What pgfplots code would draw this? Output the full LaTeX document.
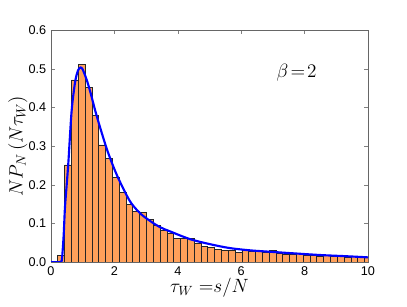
\documentclass[border=0pt]{standalone}
\usepackage{fontspec}
\setmainfont{Liberation Sans}
\usepackage{pgfplots}
\pgfplotsset{compat=1.18}
\usepackage{pgfplotstable}
\definecolor{barfill}{RGB}{255,160,90}
\definecolor{curveblue}{RGB}{0,0,255}

% histogram, bins of width 0.215 starting at 0 (left edges)
\pgfplotstableread{
x y
0.000 0
0.215 0.018
0.430 0.251
0.645 0.471
0.860 0.511
1.075 0.452
1.290 0.380
1.505 0.303
1.720 0.268
1.935 0.219
2.150 0.179
2.365 0.150
2.580 0.130
2.795 0.128
3.010 0.110
3.225 0.095
3.440 0.082
3.655 0.074
3.870 0.061
4.085 0.060
4.300 0.061
4.515 0.048
4.730 0.041
4.945 0.038
5.160 0.033
5.375 0.031
5.590 0.029
5.805 0.024
6.020 0.029
6.235 0.027
6.450 0.027
6.665 0.026
6.880 0.029
7.095 0.022
7.310 0.021
7.525 0.020
7.740 0.023
7.955 0.017
8.170 0.016
8.385 0.015
8.600 0.016
8.815 0.014
9.030 0.015
9.245 0.013
9.460 0.014
9.675 0.013
9.890 0.012
10.105 0.012
}\histdata

\pgfplotstableread{
x y
0.00 0
0.30 0
0.35 0.012
0.40 0.070
0.44 0.140
0.50 0.205
0.55 0.260
0.65 0.390
0.76 0.465
0.85 0.495
0.93 0.503
1.00 0.498
1.13 0.470
1.24 0.440
1.40 0.390
1.56 0.345
1.77 0.290
2.00 0.240
2.19 0.205
2.50 0.156
2.81 0.126
3.13 0.106
3.44 0.090
3.76 0.079
4.39 0.059
5.02 0.046
5.64 0.036
6.30 0.030
7.00 0.026
7.54 0.023
8.50 0.018
9.30 0.015
10.00 0.012
}\curvedata

\begin{document}
\begin{tikzpicture}
\begin{axis}[
    name=main,
    scale only axis,
    width=237.75pt, height=174pt,
    xmin=0, xmax=10, ymin=0, ymax=0.6,
    xtick={0,2,4,6,8,10},
    ytick={0,0.1,0.2,0.3,0.4,0.5,0.6},
    yticklabel style={/pgf/number format/fixed, /pgf/number format/fixed zerofill, /pgf/number format/precision=1},
    /pgf/number format/assume math mode=true,
    tick label style={font=\fontsize{9.5}{11}\selectfont},
    tick align=inside,
    major tick length=3pt,
    axis line style={black!60, line width=0.6pt},
    xlabel={$\tau_W\;{=}s/N$},
    ylabel={$NP_N\,(N\tau_W)$},
    label style={font=\fontsize{14}{16}\selectfont},
    xlabel style={yshift=5pt},
    ylabel style={yshift=-6pt},
    clip=true,
]
\addplot[ybar interval, fill=barfill, draw=black!85, line width=0.5pt] table[x=x, y=y] {\histdata};
\addplot[curveblue, line width=1.6pt, smooth, no marks] table[x=x, y=y] {\curvedata};
\node[font=\fontsize{14}{16}\selectfont] at (axis cs:7.75,0.49) {$\beta\!=\!2$};
\end{axis}
% page margins as in the reference figure
\pgfresetboundingbox
\path[use as bounding box] ([shift={(-38.25pt,-33.75pt)}]main.south west) rectangle ([shift={(29.25pt,22.5pt)}]main.north east);
\end{tikzpicture}
\end{document}
